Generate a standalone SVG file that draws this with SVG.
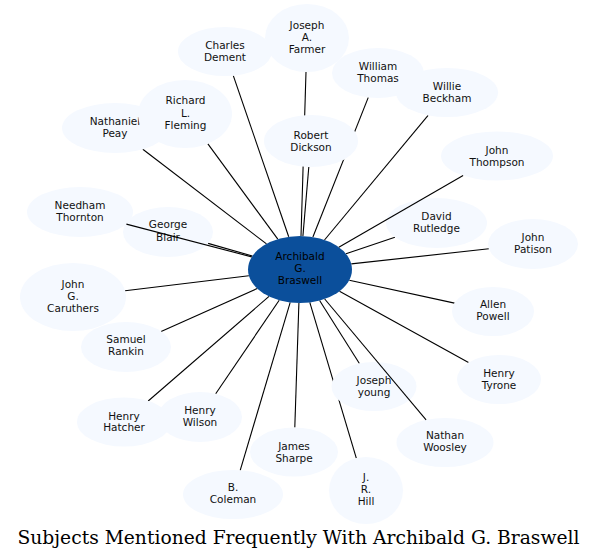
<svg xmlns="http://www.w3.org/2000/svg" width="597" height="559" viewBox="0 0 597 559">
<style>
.n ellipse{fill:#f5f9ff;stroke:none}
.n text{font-family:"DejaVu Sans",sans-serif;font-size:10.5px;fill:#111;text-anchor:middle}
#center ellipse{fill:#0b4f9b}
#center text{fill:#000}
.e line{stroke:#000;stroke-width:1.1;fill:none}
.title{font-family:"DejaVu Serif",serif;font-size:18.7px;fill:#000;text-anchor:middle}
</style>
<rect width="597" height="559" fill="#fff"/>
<g id="edges-under" class="e">
<line x1="288.7" y1="236.8" x2="233.3" y2="75.6"/>
<line x1="301.0" y1="236.0" x2="306.0" y2="72.0"/>
<line x1="302.9" y1="236.1" x2="308.8" y2="167.0"/>
<line x1="312.9" y1="237.0" x2="368.3" y2="97.4"/>
<line x1="324.5" y1="240.0" x2="428.1" y2="115.3"/>
<line x1="346.0" y1="253.8" x2="394.9" y2="237.2"/>
<line x1="351.3" y1="263.9" x2="488.9" y2="248.8"/>
<line x1="349.3" y1="280.2" x2="454.5" y2="303.1"/>
<line x1="339.5" y1="291.3" x2="468.5" y2="362.6"/>
<line x1="319.6" y1="300.5" x2="359.4" y2="363.5"/>
<line x1="309.8" y1="302.4" x2="356.3" y2="458.2"/>
<line x1="298.9" y1="303.0" x2="294.8" y2="427.5"/>
<line x1="290.2" y1="302.4" x2="240.2" y2="470.3"/>
<line x1="279.2" y1="300.2" x2="215.7" y2="393.8"/>
<line x1="269.0" y1="296.4" x2="148.2" y2="401.0"/>
<line x1="257.2" y1="288.5" x2="161.1" y2="331.4"/>
<line x1="248.9" y1="275.7" x2="125.1" y2="290.7"/>
<line x1="252.4" y1="256.0" x2="208.1" y2="243.4"/>
<line x1="266.5" y1="243.9" x2="142.8" y2="149.3"/>
<line x1="277.8" y1="239.2" x2="207.9" y2="143.9"/>
</g>
<g id="n-dement" class="n"><ellipse cx="225" cy="51.5" rx="47" ry="24.5"/><text x="225" y="49">Charles</text><text x="225" y="61">Dement</text></g>
<g id="n-farmer" class="n"><ellipse cx="307" cy="38" rx="42" ry="34"/><text x="307" y="28.5">Joseph</text><text x="307" y="40.5">A.</text><text x="307" y="52.5">Farmer</text></g>
<g id="n-dickson" class="n"><ellipse cx="311" cy="141" rx="47" ry="26"/><text x="311" y="138.5">Robert</text><text x="311" y="150.5">Dickson</text></g>
<g id="n-thomas" class="n"><ellipse cx="378" cy="73" rx="46" ry="25"/><text x="378" y="70">William</text><text x="378" y="82">Thomas</text></g>
<g id="n-beckham" class="n"><ellipse cx="447" cy="92.5" rx="51" ry="24.5"/><text x="447" y="89.5">Willie</text><text x="447" y="101.5">Beckham</text></g>
<g id="n-thompson" class="n"><ellipse cx="497" cy="156" rx="56" ry="24.5"/><text x="497" y="153.5">John</text><text x="497" y="165.5">Thompson</text></g>
<g id="n-rutledge" class="n"><ellipse cx="436.5" cy="223" rx="50.5" ry="25"/><text x="436.5" y="220">David</text><text x="436.5" y="232">Rutledge</text></g>
<g id="n-patison" class="n"><ellipse cx="533" cy="244" rx="45" ry="25"/><text x="533" y="241">John</text><text x="533" y="253">Patison</text></g>
<g id="n-powell" class="n"><ellipse cx="493" cy="311.5" rx="41" ry="24.5"/><text x="493" y="308">Allen</text><text x="493" y="320">Powell</text></g>
<g id="n-tyrone" class="n"><ellipse cx="499" cy="379.5" rx="42" ry="24.5"/><text x="499" y="376.5">Henry</text><text x="499" y="388.5">Tyrone</text></g>
<g id="n-woosley" class="n"><ellipse cx="445" cy="442.5" rx="48.5" ry="24.5"/><text x="445" y="439">Nathan</text><text x="445" y="451">Woosley</text></g>
<g id="n-young" class="n"><ellipse cx="374" cy="386.5" rx="42.5" ry="24.5"/><text x="374" y="384">Joseph</text><text x="374" y="396">young</text></g>
<g id="n-hill" class="n"><ellipse cx="366" cy="490.5" rx="37" ry="33.5"/><text x="366" y="481">J.</text><text x="366" y="493">R.</text><text x="366" y="505">Hill</text></g>
<g id="n-sharpe" class="n"><ellipse cx="294" cy="452" rx="44" ry="24.5"/><text x="294" y="449.5">James</text><text x="294" y="461.5">Sharpe</text></g>
<g id="n-coleman" class="n"><ellipse cx="233" cy="494.5" rx="50" ry="24.5"/><text x="233" y="491">B.</text><text x="233" y="503">Coleman</text></g>
<g id="n-hatcher" class="n"><ellipse cx="124" cy="422" rx="47" ry="24.5"/><text x="124" y="419.5">Henry</text><text x="124" y="431">Hatcher</text></g>
<g id="n-wilson" class="n"><ellipse cx="200" cy="417" rx="42" ry="25"/><text x="200" y="414">Henry</text><text x="200" y="426">Wilson</text></g>
<g id="n-rankin" class="n"><ellipse cx="126" cy="347" rx="45" ry="25"/><text x="126" y="343">Samuel</text><text x="126" y="355">Rankin</text></g>
<g id="n-caruthers" class="n"><ellipse cx="73" cy="297" rx="53" ry="34"/><text x="73" y="288">John</text><text x="73" y="300">G.</text><text x="73" y="312">Caruthers</text></g>
<g id="n-blair" class="n"><ellipse cx="168" cy="232" rx="45" ry="25"/><text x="168" y="228">George</text><text x="168" y="240.5">Blair</text></g>
<g id="n-thornton" class="n"><ellipse cx="80" cy="212" rx="53" ry="25"/><text x="80" y="209">Needham</text><text x="80" y="220.5">Thornton</text></g>
<g id="n-peay" class="n"><ellipse cx="115" cy="128" rx="53" ry="25"/><text x="115" y="124.5">Nathaniel</text><text x="115" y="136.5">Peay</text></g>
<g id="n-fleming" class="n"><ellipse cx="185" cy="114" rx="47" ry="34"/><text x="185.5" y="104">Richard</text><text x="185.5" y="116.5">L.</text><text x="185.5" y="128.5">Fleming</text></g>
<g id="center" class="n"><ellipse cx="300" cy="269.5" rx="52" ry="33.5"/><text x="300" y="260">Archibald</text><text x="300" y="272">G.</text><text x="300" y="284">Braswell</text></g>
<g id="edges-over" class="e">
<line x1="251.8" y1="256.9" x2="126.4" y2="224.1"/>
<line x1="324.7" y1="299.0" x2="426.1" y2="419.9"/>
<line x1="338.8" y1="247.2" x2="463.1" y2="175.5"/>
</g>
<text class="title" x="298.5" y="544">Subjects Mentioned Frequently With Archibald G. Braswell</text>
</svg>
